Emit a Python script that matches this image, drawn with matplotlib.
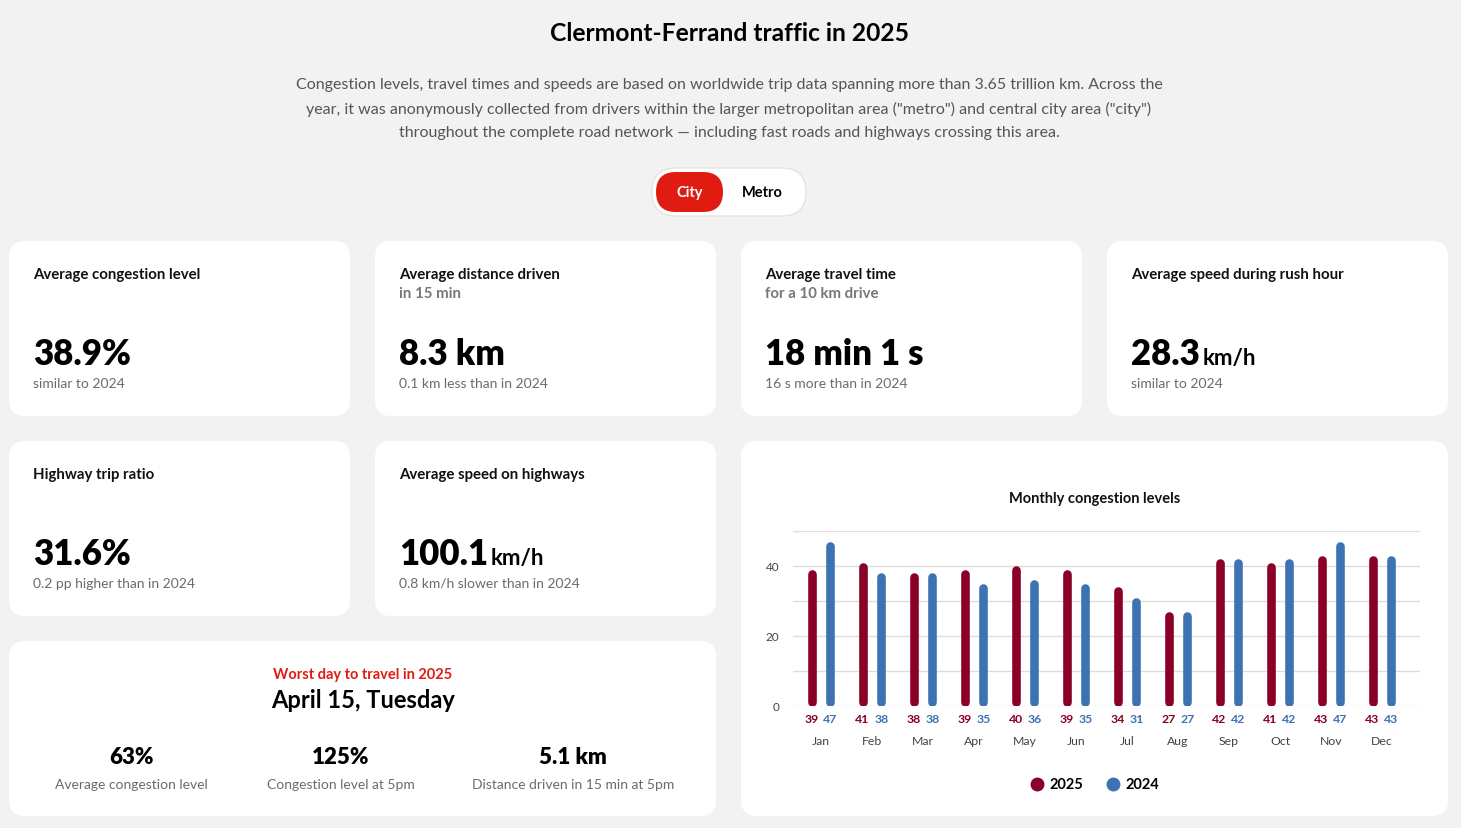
import matplotlib.pyplot as plt
from matplotlib.patches import FancyBboxPatch
import numpy as np

plt.rcParams['font.family'] = ['Lato', 'DejaVu Sans']

W, H = 1461, 829

months = ["Jan", "Feb", "Mar", "Apr", "May", "Jun", "Jul", "Aug", "Sep", "Oct", "Nov", "Dec"]
cong_2025 = [39, 41, 38, 39, 40, 39, 34, 27, 42, 41, 43, 43]
cong_2024 = [47, 38, 38, 35, 36, 35, 31, 27, 42, 42, 47, 43]

# stat cards: (title, subtitle, value, unit, note)
stat_cards = [
    ("Average congestion level", "", "38.9%", "", "similar to 2024"),
    ("Average distance driven", "in 15 min", "8.3 km", "", "0.1 km less than in 2024"),
    ("Average travel time", "for a 10 km drive", "18 min 1 s", "", "16 s more than in 2024"),
    ("Average speed during rush hour", "", "28.3", "km/h", "similar to 2024"),
    ("Highway trip ratio", "", "31.6%", "", "0.2 pp higher than in 2024"),
    ("Average speed on highways", "", "100.1", "km/h", "0.8 km/h slower than in 2024"),
]
worst_values = ["63%", "125%", "5.1 km"]
worst_labels = ["Average congestion level", "Congestion level at 5pm", "Distance driven in 15 min at 5pm"]

RED25 = "#8a0026"
BLUE24 = "#3d72b3"
GREY = "#6b6b6b"

fig = plt.figure(figsize=(W / 100, H / 100), dpi=100)
fig.patch.set_facecolor("#f2f2f2")
bg = fig.add_axes([0, 0, 1, 1], zorder=0)
bg.set_xlim(0, W)
bg.set_ylim(H, 0)
bg.axis("off")


def card(x0, y0, x1, y1, r=16):
    bg.add_patch(FancyBboxPatch((x0, y0), x1 - x0, y1 - y0,
                                boxstyle=f"round,pad=0,rounding_size={r}",
                                fc="white", ec="none"))


# header
bg.text(729, 33, "Clermont-Ferrand traffic in 2025", ha="center", va="center",
        fontsize=17.7, fontweight="bold", color="black")
sub = ["Congestion levels, travel times and speeds are based on worldwide trip data spanning more than 3.65 trillion km. Across the",
       "year, it was anonymously collected from drivers within the larger metropolitan area (\"metro\") and central city area (\"city\")",
       "throughout the complete road network \u2014 including fast roads and highways crossing this area."]
for i, line in enumerate(sub):
    bg.text(729, 85 + 24 * i, line, ha="center", va="center", fontsize=11.55, color="#555555")

# toggle
bg.add_patch(FancyBboxPatch((652, 169), 154, 48, boxstyle="round,pad=0,rounding_size=24",
                            fc="white", ec="#e4e4e4", lw=1))
bg.add_patch(FancyBboxPatch((656, 173), 67, 40, boxstyle="round,pad=0,rounding_size=20",
                            fc="#e01b12", ec="none"))
bg.text(689.5, 193, "City", ha="center", va="center", fontsize=10.5, fontweight="bold", color="white")
bg.text(762, 193, "Metro", ha="center", va="center", fontsize=10.5, fontweight="bold", color="black")

# stat cards
slots = [(9, 242), (375, 242), (741, 242), (1107, 242), (9, 442), (375, 442)]
for (x0, y0), (title, subt, val, unit, note) in zip(slots, stat_cards):
    card(x0, y0, x0 + 341, y0 + 175)
    tx = x0 + 24
    bg.text(tx, y0 + 33, title, ha="left", va="center", fontsize=10.8, fontweight="bold", color="#111111")
    if subt:
        bg.text(tx, y0 + 52, subt, ha="left", va="center", fontsize=10.8, fontweight="bold", color="#777777")
    t = bg.text(tx, y0 + 123, val, ha="left", va="baseline", fontsize=25, fontweight="heavy", color="black")
    if unit:
        fig.canvas.draw()
        bb = t.get_window_extent()
        bg.text(bb.x1 + 3, y0 + 123, unit, ha="left", va="baseline",
                fontsize=16, fontweight="bold", color="black")
    bg.text(tx, y0 + 142, note, ha="left", va="center", fontsize=10, color=GREY)

# worst day card
card(9, 642, 716, 817)
bg.text(363, 675, "Worst day to travel in 2025", ha="center", va="center", fontsize=10.5,
        fontweight="bold", color="#e01b12")
bg.text(363, 701, "April 15, Tuesday", ha="center", va="center", fontsize=17, fontweight="bold", color="black")
for cx, v, lab in zip([131, 341, 573], worst_values, worst_labels):
    bg.text(cx, 758, v, ha="center", va="center", fontsize=16, fontweight="heavy", color="black")
    bg.text(cx, 785, lab, ha="center", va="center", fontsize=10, color=GREY)

# chart card
card(741, 442, 1448, 817)
bg.text(1095, 499, "Monthly congestion levels", ha="center", va="center", fontsize=10.5,
        fontweight="bold", color="#111111")

ax = fig.add_axes([793 / W, (H - 707) / H, (1420 - 793) / W, 175 / H], zorder=2)
ax.set_facecolor("none")
ax.set_xlim(-0.549, 11.745)
ax.set_ylim(0, 50)
ax.set_yticks(np.arange(0, 51, 10))
ax.set_yticklabels(["0", "", "20", "", "40", ""])
ax.tick_params(axis="y", length=0, pad=10, labelsize=8.5, labelcolor="#444444")
ax.set_xticks([])
ax.grid(axis="y", color="#dddddd", lw=1)
ax.set_axisbelow(True)
for s in ax.spines.values():
    s.set_visible(False)

x = np.arange(len(months))
off = 0.186
cap = 1.2
ax.vlines(x - off, cap, np.array(cong_2025) - cap, color=RED25, lw=6.2, capstyle="round")
ax.vlines(x + off, cap, np.array(cong_2024) - cap, color=BLUE24, lw=6.2, capstyle="round")
for i, m in enumerate(months):
    ax.text(x[i] - off, -3.7, str(cong_2025[i]), ha="center", va="center", fontsize=8.8,
            color=RED25, fontweight="bold", clip_on=False)
    ax.text(x[i] + off, -3.7, str(cong_2024[i]), ha="center", va="center", fontsize=8.8,
            color=BLUE24, fontweight="bold", clip_on=False)
    ax.text(x[i], -10, m, ha="center", va="center", fontsize=8.8, color="#444444", clip_on=False)

# legend
bg.plot([1037], [785], "o", ms=9, color=RED25)
bg.text(1050, 785, "2025", ha="left", va="center", fontsize=10.5, fontweight="bold", color="black")
bg.plot([1113], [785], "o", ms=9, color=BLUE24)
bg.text(1126, 785, "2024", ha="left", va="center", fontsize=10.5, fontweight="bold", color="black")

fig.savefig("out.png", dpi=100, facecolor=fig.get_facecolor())
